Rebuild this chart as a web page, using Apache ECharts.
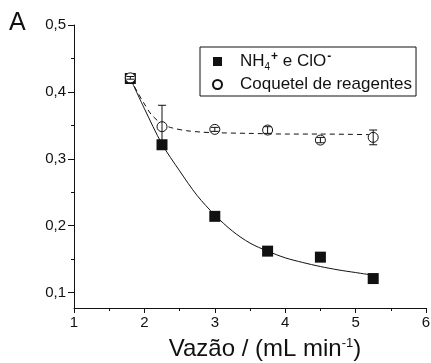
<!DOCTYPE html>
<html>
<head>
<meta charset="utf-8">
<script src="https://cdn.jsdelivr.net/npm/echarts@6/dist/echarts.min.js"></script>
<style>
  html, body { margin: 0; padding: 0; background: #fff; }
  #chart { width: 431px; height: 363px; }
</style>
</head>
<body>
<div id="chart"></div>
<script>
// flow rates (mL/min) and measured signals
const flowRates = [1.8, 2.25, 3.0, 3.75, 4.5, 5.25]
const nh4Values = [0.420, 0.321, 0.214, 0.162, 0.153, 0.121]
const cocktailValues = [0.421, 0.348, 0.344, 0.343, 0.328, 0.332]
const cocktailErrors = [0.002, 0.032, 0.003, 0.005, 0.004, 0.011]

// fitted curves
const fitNh4X = [1.8, 2.0, 2.25, 2.5, 2.75, 3.0, 3.25, 3.5, 3.75, 4.0, 4.25, 4.5, 4.75, 5.0, 5.25]
const fitNh4Y = [0.420, 0.375, 0.322, 0.282, 0.245, 0.216, 0.192, 0.174, 0.162, 0.152, 0.145, 0.139, 0.134, 0.130, 0.126]
const fitCocktailX = [1.8, 1.9, 2.0, 2.1, 2.25, 2.4, 2.6, 2.8, 3.0, 3.5, 4.0, 4.5, 5.25]
const fitCocktailY = [0.420, 0.400, 0.382, 0.366, 0.352, 0.346, 0.342, 0.340, 0.339, 0.338, 0.337, 0.337, 0.336]

const xTicks = [1, 2, 3, 4, 5, 6]
const yTicks = [0.1, 0.2, 0.3, 0.4, 0.5]
const yMinorTicks = [0.15, 0.25, 0.35, 0.45]

const FONT = '"Liberation Sans", Arial, sans-serif'
const INK = '#111'

const zip = (xs, ys) => xs.map((x, i) => [x, ys[i]])

const chart = echarts.init(document.getElementById('chart'))
chart.setOption({
  animation: false,
  backgroundColor: '#fff',
  textStyle: { fontFamily: FONT, color: INK },
  grid: { left: 74, right: 5, top: 25, bottom: 55, outerBoundsMode: 'none' },
  graphic: [
    { type: 'text', left: 9, top: 11, style: { text: 'A', font: '25px ' + FONT, fill: INK } },
  ],
  legend: {
    data: [
      { name: 'nh4', icon: 'rect' },
      { name: 'cocktail', icon: 'circle' },
    ],
    orient: 'vertical',
    left: 200,
    top: 47,
    padding: [4, 4, 3, 12],
    itemGap: 4,
    itemWidth: 9,
    itemHeight: 9,
    borderColor: INK,
    borderWidth: 1,
    borderRadius: 0,
    selectedMode: false,
    formatter: (name) => name === 'nh4'
      ? 'NH{sub|4}{sup|+} e ClO{sup|-}'
      : 'Coquetel de reagentes',
    textStyle: {
      fontFamily: FONT,
      fontSize: 17,
      color: INK,
      padding: [0, 0, 0, 13],
      rich: {
        sub: { fontSize: 10, verticalAlign: 'bottom', padding: [9, 0, 0, 0], fontFamily: FONT },
        sup: { fontSize: 12, verticalAlign: 'top', padding: [0, 0, 9, 1], fontFamily: FONT, fontWeight: 'bold' },
      },
    },
  },
  xAxis: [
    {
      type: 'value',
      min: 1,
      max: 6,
      interval: 1,
      axisLine: { show: true, lineStyle: { color: INK, width: 1 } },
      axisTick: { show: true, inside: false, length: 5, lineStyle: { color: INK } },
      minorTick: { show: true, splitNumber: 2, length: 3, lineStyle: { color: INK } },
      splitLine: { show: false },
      axisLabel: { color: INK, fontSize: 15, fontFamily: FONT, margin: 7, customValues: xTicks },
      name: 'Vazão / (mL min{sup|-1})',
      nameLocation: 'middle',
      nameGap: 29,
      nameTextStyle: {
        fontFamily: FONT,
        fontSize: 24,
        color: INK,
        padding: [0, 0, 0, 30],
        rich: { sup: { fontSize: 13, verticalAlign: 'top', padding: [0, 0, 11, 0], fontFamily: FONT } },
      },
    },
  ],
  yAxis: [
    {
      type: 'value',
      min: 0.077,
      max: 0.5,
      axisLine: { show: true, lineStyle: { color: INK, width: 1 } },
      axisTick: { show: true, inside: false, length: 6, customValues: yTicks, lineStyle: { color: INK } },
      splitLine: { show: false },
      axisLabel: {
        color: INK,
        fontSize: 15,
        fontFamily: FONT,
        margin: 8,
        customValues: yTicks,
        formatter: (v) => v.toFixed(1).replace('.', ','),
      },
    },
    {
      type: 'value',
      min: 0.077,
      max: 0.5,
      position: 'left',
      axisLine: { show: false },
      axisTick: { show: true, inside: false, length: 3, customValues: yMinorTicks, lineStyle: { color: INK } },
      axisLabel: { show: false },
      splitLine: { show: false },
    },
  ],
  series: [
    {
      name: 'fitNh4',
      type: 'line',
      data: zip(fitNh4X, fitNh4Y),
      smooth: 0.3,
      showSymbol: false,
      lineStyle: { color: INK, width: 1 },
      z: 2,
    },
    {
      name: 'fitCocktail',
      type: 'line',
      data: zip(fitCocktailX, fitCocktailY),
      smooth: 0.3,
      showSymbol: false,
      lineStyle: { color: INK, width: 1, type: [5, 4] },
      z: 2,
    },
    {
      name: 'nh4',
      type: 'scatter',
      data: zip(flowRates, nh4Values),
      symbol: 'rect',
      symbolSize: 11,
      itemStyle: { color: INK, opacity: 1 },
      z: 3,
    },
    {
      name: 'cocktail',
      type: 'scatter',
      data: zip(flowRates, cocktailValues),
      symbol: 'circle',
      symbolSize: 10,
      itemStyle: { color: '#fff', borderColor: INK, borderWidth: 1, opacity: 1 },
      z: 4,
    },
    {
      name: 'cocktailErr',
      type: 'custom',
      data: flowRates.map((x, i) => [x, cocktailValues[i] - cocktailErrors[i], cocktailValues[i] + cocktailErrors[i]]),
      renderItem: (params, api) => {
        const lo = api.coord([api.value(0), api.value(1)])
        const hi = api.coord([api.value(0), api.value(2)])
        const w = 4
        const style = { stroke: INK, lineWidth: 1 }
        return {
          type: 'group',
          children: [
            { type: 'line', shape: { x1: lo[0], y1: lo[1], x2: hi[0], y2: hi[1] }, style },
            { type: 'line', shape: { x1: hi[0] - w, y1: hi[1], x2: hi[0] + w, y2: hi[1] }, style },
            { type: 'line', shape: { x1: lo[0] - w, y1: lo[1], x2: lo[0] + w, y2: lo[1] }, style },
          ],
        }
      },
      encode: { x: 0, y: [1, 2] },
      z: 5,
    },
  ],
})
</script>
</body>
</html>
